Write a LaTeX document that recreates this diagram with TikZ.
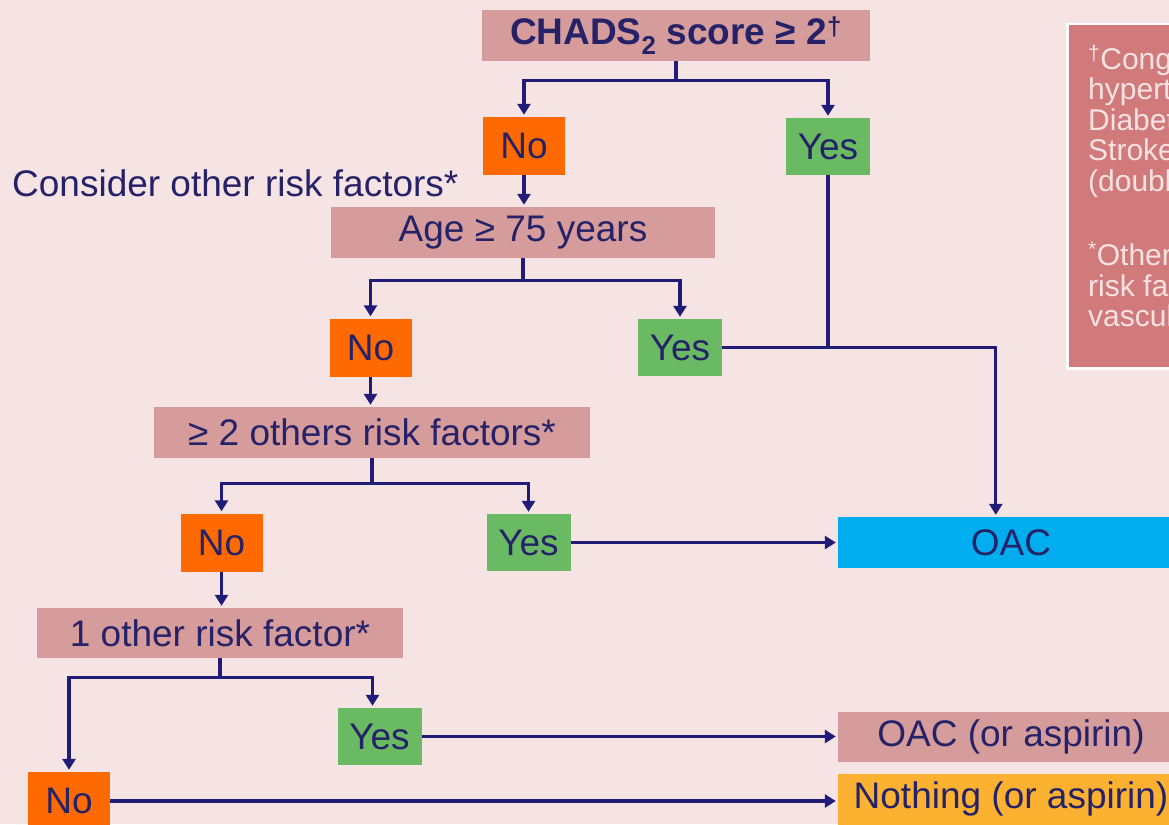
\documentclass[tikz,border=0pt]{standalone}
\usepackage{fontspec}
\setmainfont{Liberation Sans}
\usetikzlibrary{arrows.meta,calc}
\definecolor{bg}{RGB}{246,228,228}
\definecolor{navy}{RGB}{38,34,104}
\definecolor{linec}{RGB}{32,28,120}
\definecolor{pinkc}{RGB}{214,156,156}
\definecolor{orangec}{RGB}{255,106,0}
\definecolor{greenc}{RGB}{106,186,100}
\definecolor{bluec}{RGB}{0,174,239}
\definecolor{yellowc}{RGB}{252,178,48}
\definecolor{fnfill}{RGB}{208,122,124}
\definecolor{fntext}{RGB}{250,226,226}
\tikzset{
  basebox/.style={rectangle,inner sep=0pt,text=navy,font=\fontsize{37}{40}\selectfont},
  pinkbox/.style={basebox,fill=pinkc},
  nobox/.style={basebox,fill=orangec,minimum width=82pt,minimum height=58pt},
  yesbox/.style={basebox,fill=greenc,minimum width=84pt,minimum height=57pt},
  bluebox/.style={basebox,fill=bluec},
  yellowbox/.style={basebox,fill=yellowc},
  conn/.style={draw=linec,line width=3.3pt},
  arr/.style={conn,-{Triangle[width=13pt,length=11pt]},shorten >=2pt},
}
\begin{document}
\begin{tikzpicture}[x=1pt,y=-1pt]
\useasboundingbox (0,0) rectangle (1169,824);
\clip (0,0) rectangle (1169,824);
\fill[bg] (0,0) rectangle (1169,824);

% boxes
\node[pinkbox,minimum width=388pt,minimum height=51pt,font=\fontsize{37}{40}\selectfont\bfseries] (chads) at (676,35.5) {CHADS\textsubscript{2} score ≥ 2\textsuperscript{†}};
\node[nobox] (no1) at (524,146) {No};
\node[yesbox] (yes1) at (828,146.5) {Yes};
\node[basebox,anchor=west] (consider) at (12,183) {Consider other risk factors*};
\node[pinkbox,minimum width=384pt,minimum height=51pt] (age) at (523,232.5) {Age ≥ 75 years};
\node[nobox] (no2) at (370.5,347.5) {No};
\node[yesbox] (yes2) at (680,347.5) {Yes};
\node[pinkbox,minimum width=436pt,minimum height=51pt] (two) at (372,432.5) {≥ 2 others risk factors*};
\node[nobox] (no3) at (221.5,542.5) {No};
\node[yesbox] (yes3) at (528.5,542.5) {Yes};
\node[bluebox,minimum width=346pt,minimum height=51pt] (oac) at (1011,542.5) {OAC};
\node[pinkbox,minimum width=366pt,minimum height=50pt] (one) at (220,633) {1 other risk factor*};
\node[yesbox] (yes4) at (379.5,736.5) {Yes};
\node[nobox] (no4) at (69,801) {No};
\node[pinkbox,minimum width=346pt,minimum height=50pt] (oac2) at (1011,737) {OAC (or aspirin)};
\node[yellowbox,minimum width=346pt,minimum height=51pt] (nothing) at (1011,799) {Nothing (or aspirin)};

% footnote box
\node[rectangle,fill=fnfill,draw=white,line width=2.5pt,anchor=north west,minimum width=140pt,minimum height=344pt,inner sep=0pt] (fn) at (1066,23) {};
\node[anchor=north west,align=left,inner sep=0pt,text=fntext,font=\fontsize{30}{30.5}\selectfont] (fntxt) at (1088,45)
  {\textsuperscript{†}Congestive\\ hypertension\\ Diabetes\\ Stroke\\ (double)\\[44pt] \textsuperscript{*}Other\\ risk factors\\ vascular};

% connectors
\draw[conn] (chads.south) -- ++(0,19) coordinate (j1);
\draw[arr] (j1) -| (no1.north);
\draw[arr] (j1) -| (yes1.north);
\draw[arr] (no1.south) -- (no1.south |- age.north);
\draw[conn] (age.south) -- ++(0,22) coordinate (j2);
\draw[arr] (j2) -| (no2.north);
\draw[arr] (j2) -| (yes2.north);
\coordinate (oacin) at ($(oac.north west)+(158,0)$);
\draw[conn] (yes1.south) -- (yes1.south |- yes2.east);
\draw[arr] (yes2.east) -| (oacin);
\draw[arr] (no2.south) -- (no2.south |- two.north);
\draw[conn] (two.south) -- ++(0,25) coordinate (j3);
\draw[arr] (j3) -| (no3.north);
\draw[arr] (j3) -| (yes3.north);
\draw[arr] (yes3.east) -- (oac.west);
\draw[arr] (no3.south) -- (no3.south |- one.north);
\draw[conn] (one.south) -- ++(0,19) coordinate (j4);
\coordinate (y4in) at ($(yes4.north)+(-7,0)$);
\draw[arr] (j4) -| (no4.north);
\draw[arr] (j4) -| (y4in);
\draw[arr] (yes4.east) -- (yes4.east -| oac2.west);
\draw[arr] (no4.east) -- (no4.east -| nothing.west);
\end{tikzpicture}
\end{document}
